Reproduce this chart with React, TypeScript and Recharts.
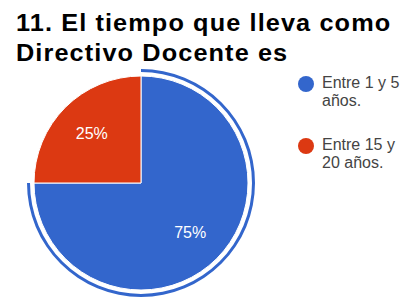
import { PieChart, Pie, Cell, Legend } from 'recharts';

const categories = ['Entre 1 y 5 años.', 'Entre 15 y 20 años.'];
const values = [75, 25];
const colors = ['#3366CC', '#DC3912'];
const legendLines = [
  ['Entre 1 y 5', 'años.'],
  ['Entre 15 y', '20 años.'],
];

const data = categories.map((name, i) => ({ name, value: values[i] }));

const RADIAN = Math.PI / 180;

const renderLabel = (props: any) => {
  const { cx, cy, midAngle, outerRadius, percent } = props;
  const r = outerRadius * 0.65;
  const x = cx + r * Math.cos(-midAngle * RADIAN);
  const y = cy + r * Math.sin(-midAngle * RADIAN);
  return (
    <text
      x={x}
      y={y}
      fill="#fff"
      textAnchor="middle"
      dominantBaseline="central"
      fontFamily="Arial, 'Liberation Sans', sans-serif"
      fontSize={16}
    >
      {`${Math.round(percent * 100)}%`}
    </text>
  );
};

const renderLegend = () => (
  <div style={{ fontFamily: "Arial, 'Liberation Sans', sans-serif", fontSize: 16, color: '#444' }}>
    {legendLines.map((lines, i) => (
      <div key={i} style={{ display: 'flex', marginBottom: 26 }}>
        <span
          style={{
            width: 16,
            height: 16,
            borderRadius: '50%',
            background: colors[i],
            marginRight: 8,
            marginTop: 2,
            flexShrink: 0,
          }}
        />
        <div style={{ lineHeight: '18px' }}>
          {lines.map((l) => (
            <div key={l}>{l}</div>
          ))}
        </div>
      </div>
    ))}
  </div>
);

export default function App() {
  return (
    <div style={{ position: 'absolute', left: 0, top: 0, width: 414, height: 303, background: '#fff' }}>
      <div
        style={{
          position: 'absolute',
          left: 16,
          top: 8,
          fontFamily: "Arial, 'Liberation Sans', sans-serif",
          fontWeight: 'bold',
          fontSize: 23,
          letterSpacing: 1,
          lineHeight: '30px',
          color: '#000',
          zIndex: 2,
          whiteSpace: 'nowrap',
          transform: 'scaleX(1.1)',
          transformOrigin: 'left top',
        }}
      >
        <div>11. El tiempo que lleva como</div>
        <div>Directivo Docente es</div>
      </div>
      <PieChart width={414} height={303} margin={{ top: 0, right: 0, bottom: 0, left: 0 }}>
        <Pie
          data={data}
          dataKey="value"
          nameKey="name"
          cx={141}
          cy={183}
          outerRadius={107}
          startAngle={90}
          endAngle={-270}
          stroke="#fff"
          strokeWidth={1}
          label={renderLabel}
          labelLine={false}
          isAnimationActive={false}
        >
          {data.map((d, i) => (
            <Cell key={d.name} fill={colors[i]} />
          ))}
        </Pie>
        <Pie
          data={data}
          dataKey="value"
          cx={141}
          cy={183}
          innerRadius={111}
          outerRadius={114}
          startAngle={90}
          endAngle={-270}
          stroke="none"
          legendType="none"
          isAnimationActive={false}
        >
          {data.map((d, i) => (
            <Cell key={d.name} fill={i === 0 ? colors[0] : 'transparent'} />
          ))}
        </Pie>
        <Legend
          layout="vertical"
          content={renderLegend}
          wrapperStyle={{ left: 298, top: 74, width: 116 }}
        />
      </PieChart>
    </div>
  );
}
